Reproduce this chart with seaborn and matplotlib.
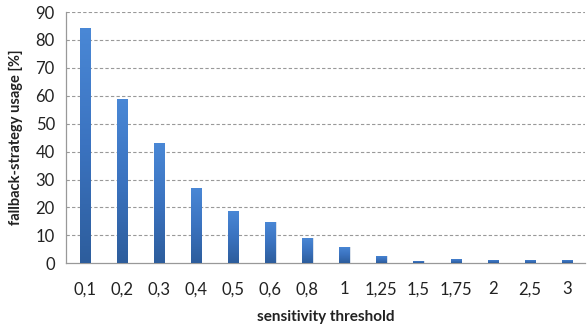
import numpy as np
import pandas as pd
import matplotlib
matplotlib.use("Agg")
import matplotlib.pyplot as plt
from matplotlib.colors import LinearSegmentedColormap
import seaborn as sns

thresholds = ["0,1", "0,2", "0,3", "0,4", "0,5", "0,6", "0,8", "1",
              "1,25", "1,5", "1,75", "2", "2,5", "3"]
usage = [84.2, 58.8, 43.0, 26.9, 18.7, 14.8, 9.1, 5.8,
         2.6, 0.8, 1.5, 1.2, 1.2, 1.2]
y_ticks = [0, 10, 20, 30, 40, 50, 60, 70, 80, 90]

df = pd.DataFrame({"threshold": thresholds, "usage": usage})

sns.set_theme(style="white")
plt.rcParams["font.family"] = ["Lato", "DejaVu Sans"]

fig = plt.figure(figsize=(5.87, 3.26), dpi=100)
ax = fig.add_axes([0.1124, 0.1923, 0.885, 0.7707])

sns.barplot(data=df, x="threshold", y="usage", ax=ax, color="#3a70bd",
            width=0.27, saturation=1, edgecolor="none", zorder=3)

# vertical gradient fill on every bar: lighter at the top, darker at the base
grad = LinearSegmentedColormap.from_list("bar", ["#2d5d9c", "#3b73c0", "#4a88d6"])
g = np.linspace(0, 1, 256).reshape(-1, 1)
for p in ax.patches:
    x0, y0 = p.get_x(), p.get_y()
    w, h = p.get_width(), p.get_height()
    # soft shadow to the right
    ax.bar(x0 + w / 2 + 0.04, h, width=w, bottom=y0, color="#b8c6d8",
           alpha=0.5, zorder=2, linewidth=0)
    im = ax.imshow(g, extent=[x0, x0 + w, y0, y0 + h], origin="lower",
                   cmap=grad, aspect="auto", zorder=4)
    im.set_clip_path(p)

ax.set_xlim(-0.5, 13.5)
ax.set_ylim(0, 90)
ax.set_yticks(y_ticks)
ax.set_yticklabels([str(v) for v in y_ticks], fontsize=12, color="#222222")
ax.tick_params(axis="y", direction="out", length=5, width=0.8, color="#999999", pad=3)
ax.tick_params(axis="x", length=0, pad=13, labelsize=12, labelcolor="#222222")

for v in y_ticks[1:]:
    ax.axhline(v, color="#999999", linestyle=(0, (3, 2)), linewidth=0.8, zorder=1)

for s in ["top", "right"]:
    ax.spines[s].set_visible(False)
for s in ["left", "bottom"]:
    ax.spines[s].set_color("#999999")
    ax.spines[s].set_linewidth(0.9)

ax.set_xlabel("sensitivity threshold", fontsize=11, fontweight="bold",
              color="#222222", labelpad=9)
ax.set_ylabel("fallback-strategy usage [%]", fontsize=10.5, fontweight="bold",
              color="#222222", labelpad=9)

fig.savefig("out.png", dpi=100)
